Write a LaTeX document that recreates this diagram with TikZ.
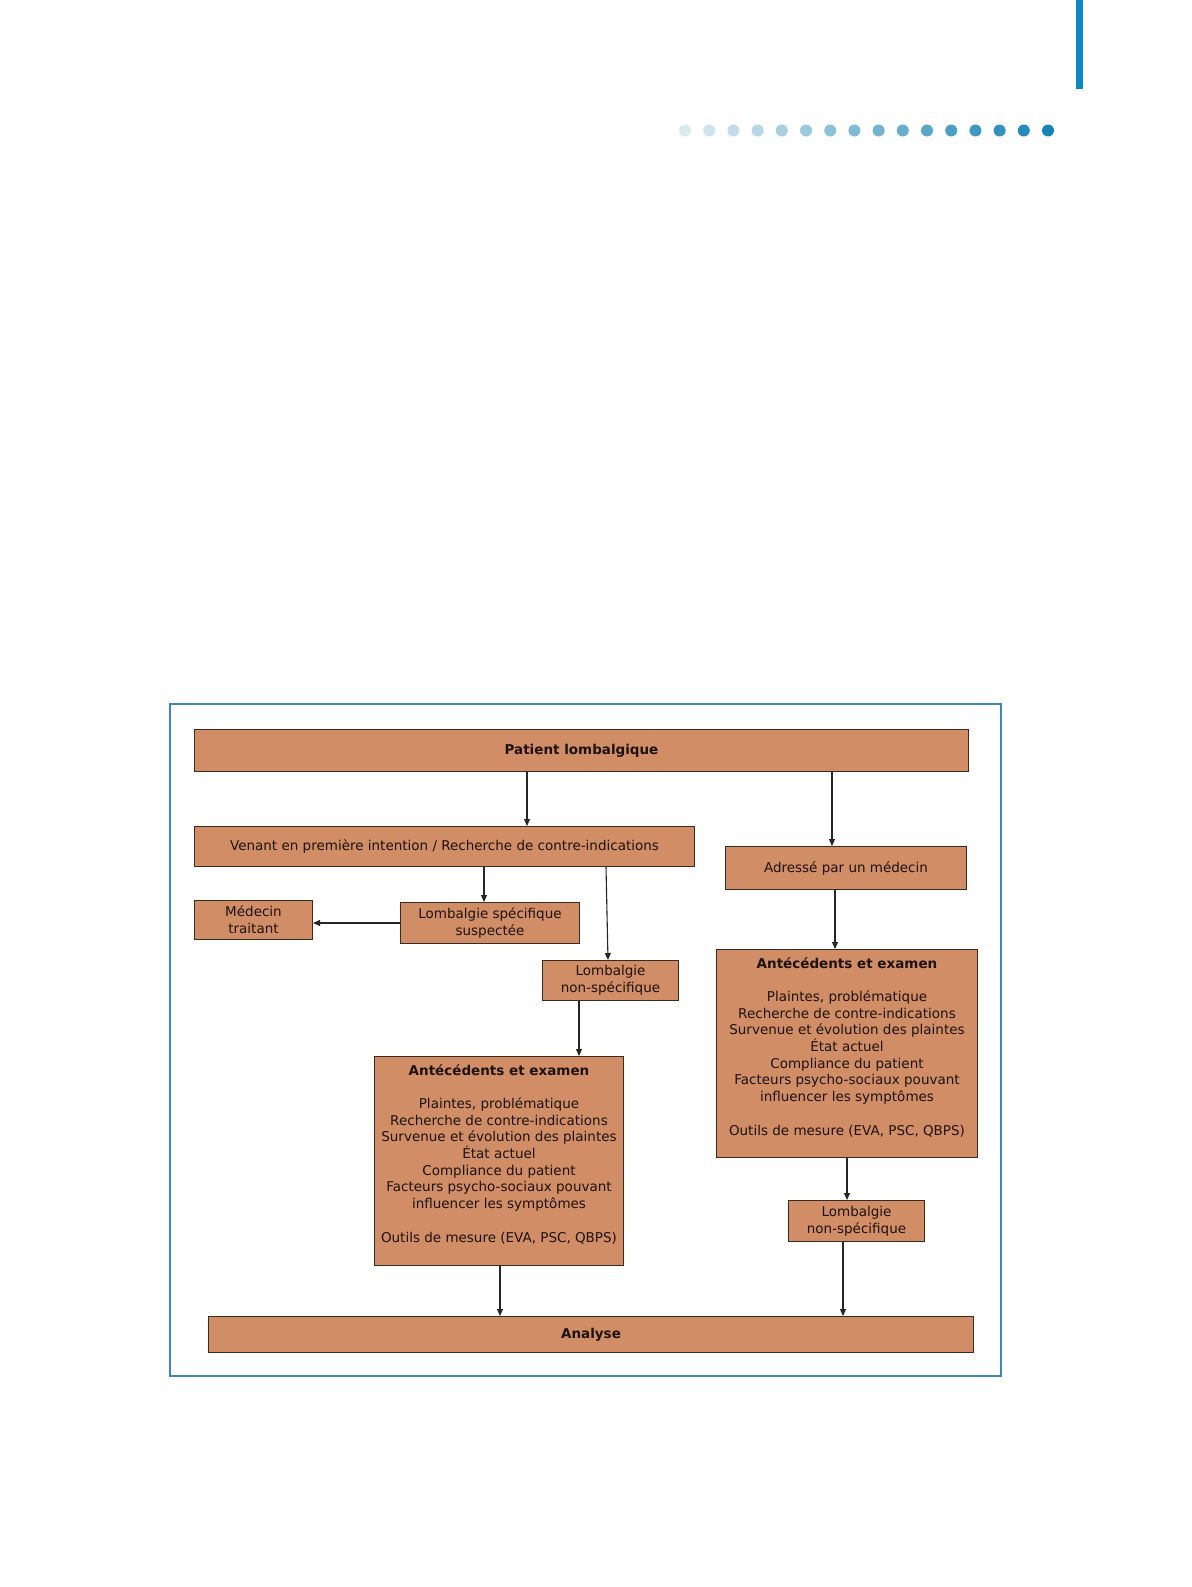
\documentclass[tikz,border=0pt]{standalone}
\usepackage{fontspec}
\setmainfont{DejaVu Sans}
\usetikzlibrary{arrows.meta,calc}
\definecolor{boxfill}{HTML}{D18D66}
\definecolor{boxline}{HTML}{3A2A20}
\definecolor{framecol}{HTML}{3C88BE}
\definecolor{barcol}{HTML}{0B88C6}
\definecolor{dotlight}{HTML}{DCEAF0}
\definecolor{dotdark}{HTML}{1784B6}
\definecolor{txtcol}{HTML}{1E120C}
\begin{document}
\begin{tikzpicture}[x=1pt,y=-1pt,
  box/.style={draw=boxline, fill=boxfill, line width=1pt, rectangle, inner sep=0pt,
    anchor=north west, font=\fontsize{13.5}{16.7}\selectfont, text=txtcol, align=center},
  lbl/.style={font=\fontsize{13.5}{16.7}\selectfont, text=txtcol, align=center, inner sep=0pt},
  arr/.style={draw=black!85, line width=1.1pt, -{Triangle[length=7pt,width=6pt]}}]
\useasboundingbox[fill=white] (0,0) rectangle (1191,1587);
% decoration
\fill[barcol] (1076,0) rectangle (1083,89);
\foreach \i in {0,...,15}{
  \pgfmathsetmacro{\p}{100*\i/15}
  \fill[dotdark!\p!dotlight] (685+24.2*\i,130.5) circle (6);
}
% frame
\draw[framecol, line width=1.2pt] (170,704) rectangle (1001,1376);
% boxes
\node[box, minimum width=774, minimum height=42] (patient) at (194,729) {\textbf{Patient lombalgique}};
\node[box, minimum width=500, minimum height=40] (venant) at (194,826) {Venant en première intention / Recherche de contre-indications};
\node[box, minimum width=241, minimum height=43] (adresse) at (725,846) {Adressé par un médecin};
\node[box, minimum width=118, minimum height=39] (medecin) at (194,900) {Médecin\\traitant};
\node[box, minimum width=179, minimum height=41] (lspec) at (400,902) {Lombalgie spécifique\\suspectée};
\node[box, minimum width=136, minimum height=40] (lnsL) at (542,960) {Lombalgie\\non-spécifique};
\node[box, minimum width=249, minimum height=209] (antL) at (374,1056) {};
\node[lbl, anchor=north] (antLt) at ($(antL.north)+(0,8)$) {\textbf{Antécédents et examen}\\[16.7pt]
Plaintes, problématique\\Recherche de contre-indications\\Survenue et évolution des plaintes\\État actuel\\Compliance du patient\\Facteurs psycho-sociaux pouvant\\influencer les symptômes\\[16.7pt]
Outils de mesure (EVA, PSC, QBPS)};
\node[box, minimum width=261, minimum height=208] (antR) at (716,949) {};
\node[lbl, anchor=north] (antRt) at ($(antR.north)+(0,8)$) {\textbf{Antécédents et examen}\\[16.7pt]
Plaintes, problématique\\Recherche de contre-indications\\Survenue et évolution des plaintes\\État actuel\\Compliance du patient\\Facteurs psycho-sociaux pouvant\\influencer les symptômes\\[16.7pt]
Outils de mesure (EVA, PSC, QBPS)};
\node[box, minimum width=136, minimum height=41] (lnsR) at (788,1200) {Lombalgie\\non-spécifique};
\node[box, minimum width=765, minimum height=36] (analyse) at (208,1316) {\textbf{Analyse}};
% arrows
\draw[arr] ($(patient.south west)+(333,0)$) -- ($(venant.north west)+(333,0)$);
\draw[arr] ($(patient.south west)+(638,0)$) -- ($(adresse.north west)+(107,0)$);
\draw[arr] ($(venant.south west)+(290,0)$) -- ($(lspec.north west)+(84,0)$);
\draw[arr] (lspec.west) -- (lspec.west -| medecin.east);
\draw[arr] ($(venant.south west)+(412,0)$) -- ($(lnsL.north west)+(66,0)$);
\draw[arr] ($(lnsL.south west)+(37,0)$) -- ($(antL.north west)+(205,0)$);
\draw[arr] ($(adresse.south west)+(110,0)$) -- ($(antR.north west)+(119,0)$);
\draw[arr] ($(antR.south west)+(131,0)$) -- ($(lnsR.north west)+(59,0)$);
\draw[arr] ($(antL.south west)+(126,0)$) -- ($(analyse.north west)+(292,0)$);
\draw[arr] ($(lnsR.south west)+(55,0)$) -- ($(analyse.north west)+(635,0)$);
\end{tikzpicture}
\end{document}
